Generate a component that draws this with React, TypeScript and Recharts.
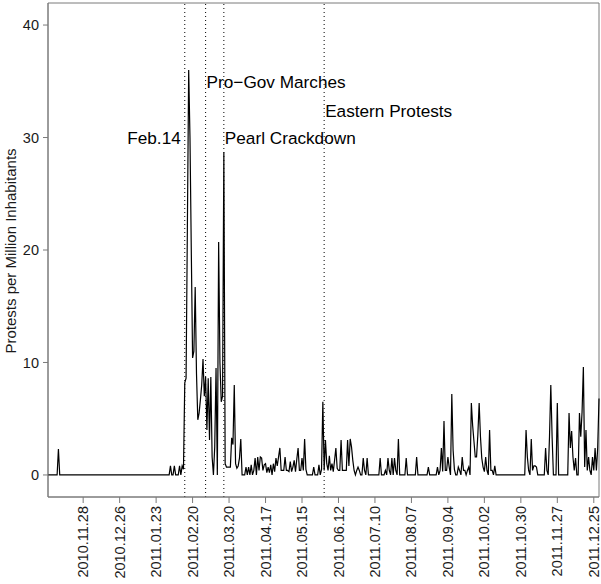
import { LineChart, Line, XAxis, YAxis, ReferenceLine, ReferenceArea, ReferenceDot, Label } from 'recharts'

// daily protests per million inhabitants, 2010-11-01 .. 2011-12-29
const nov2010 = [0, 0, 0, 0, 0, 0, 0, 0, 2.3, 0, 0, 0, 0, 0, 0, 0, 0, 0, 0, 0, 0, 0, 0, 0, 0, 0, 0, 0, 0, 0]
const dec2010 = [0, 0, 0, 0, 0, 0, 0, 0, 0, 0, 0, 0, 0, 0, 0, 0, 0, 0, 0, 0, 0, 0, 0, 0, 0, 0, 0, 0, 0, 0, 0]
const jan2011 = [0, 0, 0, 0, 0, 0, 0, 0, 0, 0, 0, 0, 0, 0, 0, 0, 0, 0, 0, 0, 0, 0, 0, 0, 0, 0, 0, 0, 0, 0, 0]
const feb2011 = [0, 0, 0.8, 0, 0, 0.8, 0, 0, 0, 0.8, 0, 0.8, 0.5, 8.2, 8.6, 22, 36, 30, 20, 10.4, 11, 16.7, 9, 4.9, 5.5, 6.7, 8, 10.3]
const mar2011 = [7, 8.7, 4, 8.6, 3.1, 8.7, 1.6, 0, 2.5, 9.5, 0, 20.7, 10, 6.5, 7, 28.7, 1, 0.7, 0.7, 0.7, 0.7, 3.3, 2.7, 8, 1, 0.6, 0.8, 1.5, 3.2, 0, 0]
const apr2011 = [0, 0.7, 0, 0.7, 0, 0.9, 0, 0.4, 1.5, 0, 1.6, 0.4, 1.6, 1.5, 0.4, 0.9, 1, 0.2, 0.7, 0.2, 0.9, 0, 1, 0.3, 1.5, 0.8, 1.6, 2.4, 0.4, 0.4]
const may2011 = [0.4, 1.6, 0.4, 0.4, 0.3, 1.2, 0.3, 0.7, 1.3, 0.3, 1.4, 2.4, 0.4, 0.4, 1.5, 0.4, 3.2, 0.5, 0, 0, 0, 0, 0, 0.7, 0, 0, 0, 0.9, 0, 0.5, 6.5]
const jun2011 = [0.4, 3.1, 1, 0.4, 1.7, 0.4, 1, 0.3, 1.3, 2.4, 0.6, 0.4, 0.4, 3.1, 0.4, 0.4, 0.4, 0.4, 3.1, 0.8, 3.2, 2.5, 1.3, 0.4, 0, 0.4, 0.7, 0.4, 0, 0]
const jul2011 = [1.5, 0.4, 0, 1.5, 0, 0, 0, 0, 0, 0, 0, 0, 0, 1.5, 0, 0, 0, 0.4, 0, 1.5, 0.4, 0, 1.5, 0, 1.5, 0.4, 0, 3.2, 0, 0, 0]
const aug2011 = [0, 0, 1.5, 0, 0, 0, 0, 0, 0, 0, 1.6, 0, 0, 0, 0, 0, 0, 0, 0, 0.7, 0, 0, 0, 0, 0, 0, 0.7, 0, 0.4, 2.4, 0.3]
const sep2011 = [4.8, 0.4, 0.4, 1.6, 0.7, 0, 7.2, 2.2, 0.5, 0, 0, 0.7, 0.4, 0, 1.6, 0.4, 0.4, 0, 0.4, 0.7, 0, 6.4, 4.4, 3, 1.6, 1.6, 3.6, 6.4, 3.4, 1.5]
const oct2011 = [0.7, 0.3, 1.6, 0.4, 0, 4, 0.4, 0.4, 0, 0.8, 0, 0, 0, 0, 0, 0, 0, 0, 0, 0, 0, 0, 0, 0, 0, 0, 0, 0, 0, 0, 0]
const nov2011 = [0, 0, 4, 1.6, 0.4, 0, 3.2, 0.4, 0.8, 0.8, 0.7, 0, 0, 0, 0, 0, 0, 2.4, 0.4, 0, 3.4, 8, 3.4, 0, 0, 0, 6.4, 0, 0, 0]
const dec2011 = [0, 0, 0, 0, 0, 5.5, 2.4, 3.9, 1.6, 0.4, 1.5, 0, 0, 5.5, 3.4, 5.6, 9.6, 0.7, 4, 0.4, 1.6, 0.4, 0, 1.6, 0.4, 2.4, 0.4, 2.4, 6.8]

const tickDates = ['2010.11.28', '2010.12.26', '2011.01.23', '2011.02.20', '2011.03.20', '2011.04.17', '2011.05.15',
  '2011.06.12', '2011.07.10', '2011.08.07', '2011.09.04', '2011.10.02', '2011.10.30', '2011.11.27', '2011.12.25']
const yTicks = [0, 10, 20, 30, 40]

const eventDates = ['2011.02.14', '2011.03.02', '2011.03.16', '2011.06.01']
const eventNames = ['Feb.14', 'Pro\u2212Gov Marches', 'Pearl Crackdown', 'Eastern Protests']

// where the event names sit (y value) and which side of the line
const eventLevels = [30, 34.9, 30, 32.4]
const eventLeft = [true, false, false, false]

const START = Date.UTC(2010, 10, 1)
const DAY = 86400000
const dayOf = (s: string) => {
  const [y, m, d] = s.split('.').map(Number)
  return Math.round((Date.UTC(y, m - 1, d) - START) / DAY)
}
const pad = (n: number) => String(n).padStart(2, '0')
const fmt = (t: number) => {
  const d = new Date(START + t * DAY)
  return `${d.getUTCFullYear()}.${pad(d.getUTCMonth() + 1)}.${pad(d.getUTCDate())}`
}

const rates = [...nov2010, ...dec2010, ...jan2011, ...feb2011, ...mar2011, ...apr2011, ...may2011,
  ...jun2011, ...jul2011, ...aug2011, ...sep2011, ...oct2011, ...nov2011, ...dec2011]
const data = rates.map((v, t) => ({ t, v }))
const lastDay = data.length - 1
const Y_DOMAIN: [number, number] = [-1.96, 41.96]

const AXIS = '#7a7a7a'
const TEXT = '#1a1a1a'

function DateTick({ x, y, payload }: any) {
  return (
    <text x={x} y={y} transform={`rotate(-90 ${x} ${y})`} textAnchor="end" dy="0.35em" fontSize={14.5} fill={TEXT}>
      {fmt(payload.value)}
    </text>
  )
}

export default function App() {
  return (
    <div style={{ position: 'absolute', left: 0, top: 0, fontFamily: '"Liberation Sans", Arial, sans-serif' }}>
      <LineChart width={601} height={584} data={data} margin={{ top: 3, right: 2, bottom: 0, left: 0 }}>
        <XAxis
          type="number"
          dataKey="t"
          domain={[0, lastDay]}
          ticks={tickDates.map(dayOf)}
          interval={0}
          height={87}
          tickSize={6}
          tickMargin={3}
          tick={<DateTick />}
          stroke={AXIS}
        />
        <YAxis
          type="number"
          domain={Y_DOMAIN}
          ticks={yTicks}
          interval={0}
          width={48}
          tickSize={5}
          tickMargin={4}
          tick={{ fill: TEXT, fontSize: 14.5 }}
          stroke={AXIS}
        >
          <Label
            content={() => (
              <text x={16} y={251} transform="rotate(-90 16 251)" textAnchor="middle" fontSize={15} fill={TEXT}>
                Protests per Million Inhabitants
              </text>
            )}
          />
        </YAxis>
        <ReferenceArea x1={0} x2={lastDay} y1={Y_DOMAIN[0]} y2={Y_DOMAIN[1]} fill="none" stroke={AXIS} />
        {eventDates.map((d) => (
          <ReferenceLine key={d} x={dayOf(d)} stroke="#000" strokeDasharray="1 3" strokeWidth={1} />
        ))}
        <Line type="linear" dataKey="v" stroke="#000" strokeWidth={1.2} dot={false} isAnimationActive={false} />
        {eventDates.map((d, i) => (
          <ReferenceDot
            key={'l' + d}
            x={dayOf(d)}
            y={eventLevels[i]}
            r={0}
            fill="none"
            stroke="none"
            label={{
              content: (p: any) => (
                <text
                  x={p.viewBox.x + (eventLeft[i] ? -4 : 1)}
                  y={p.viewBox.y}
                  dy="0.35em"
                  textAnchor={eventLeft[i] ? 'end' : 'start'}
                  fontSize={17.2}
                  fill="#000"
                >
                  {eventNames[i]}
                </text>
              ),
            }}
          />
        ))}
      </LineChart>
    </div>
  )
}
